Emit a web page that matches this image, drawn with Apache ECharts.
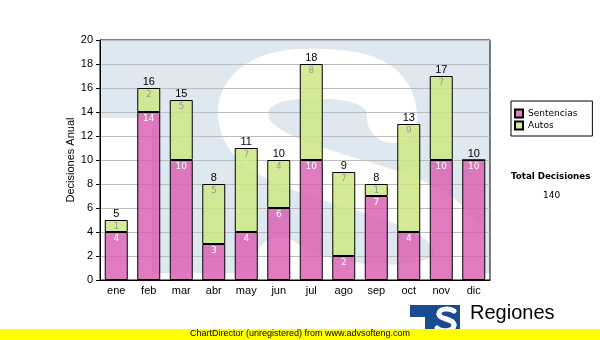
<!DOCTYPE html>
<html>
<head>
<meta charset="utf-8">
<script src="https://cdn.jsdelivr.net/npm/echarts@6/dist/echarts.min.js"></script>
<style>
  html, body { margin: 0; padding: 0; background: #fff; }
  #chart { width: 600px; height: 340px; }
</style>
</head>
<body>
<div id="chart"></div>
<script>
// Decisiones por mes: sentencias y autos
const meses = ['ene', 'feb', 'mar', 'abr', 'may', 'jun', 'jul', 'ago', 'sep', 'oct', 'nov', 'dic'];
const sentencias = [4, 14, 10, 3, 4, 6, 10, 2, 7, 4, 10, 10];
const autos = [1, 2, 5, 5, 7, 4, 8, 7, 1, 9, 7, 0];
const yMin = 0, yMax = 20, yStep = 2;

const totales = meses.map((m, i) => sentencias[i] + autos[i]);
const totalDecisiones = totales.reduce((a, b) => a + b, 0);

const AXIS_FONT = 'Liberation Sans, Arial, sans-serif';
const SMALL_FONT = 'DejaVu Sans, Verdana, sans-serif';

const chart = echarts.init(document.getElementById('chart'), null, { renderer: 'canvas' });

const segLabel = (color) => ({
  show: true,
  position: 'insideTop',
  distance: 2,
  color: color,
  fontSize: 9,
  fontFamily: SMALL_FONT,
  formatter: p => (p.value ? String(p.value) : '')
});

// one stroke piece of a thick white curve
function curve(p0, c1, c2, p1, width, z) {
  return {
    type: 'bezierCurve', z: z, silent: true,
    shape: { x1: p0[0], y1: p0[1], cpx1: c1[0], cpy1: c1[1], cpx2: c2[0], cpy2: c2[1], x2: p1[0], y2: p1[1] },
    style: { fill: null, stroke: '#ffffff', lineWidth: width, lineCap: 'round' }
  };
}

// watermark S drawn as a chain of curves
const bigS = [
  [[392, 118], [392, 78], [350, 72], [300, 74]],
  [[300, 74], [255, 76], [236, 100], [245, 125]],
  [[245, 125], [255, 160], [330, 175], [390, 195]],
  [[390, 195], [455, 217], [470, 245], [455, 270]],
  [[455, 270], [440, 295], [330, 300], [280, 262]]
];
const smallS = [
  [[454, 311], [450, 308], [439, 308], [439, 314]],
  [[439, 314], [439, 320], [454, 318], [454, 325]],
  [[454, 325], [454, 332], [441, 332], [437, 328]]
];

chart.setOption({
  animation: false,
  backgroundColor: '#fff',
  grid: {
    left: 100, top: 40, width: 390, height: 240,
    show: true, borderColor: '#000', borderWidth: 1, backgroundColor: 'transparent'
  },
  legend: {
    data: ['Sentencias', 'Autos'],
    orient: 'vertical',
    left: 511, top: 101,
    backgroundColor: '#fff',
    borderColor: '#000', borderWidth: 1,
    padding: [7, 15, 5, 3],
    itemWidth: 8, itemHeight: 8, itemGap: 1,
    icon: 'rect',
    textStyle: { fontSize: 9, fontFamily: SMALL_FONT, color: '#000', lineHeight: 11 }
  },
  xAxis: {
    type: 'category',
    data: meses,
    axisLine: { lineStyle: { color: '#000', width: 1 } },
    axisTick: { alignWithLabel: true, length: 4, lineStyle: { color: '#000' } },
    axisLabel: { color: '#000', fontSize: 11, fontFamily: AXIS_FONT, margin: 5 }
  },
  yAxis: {
    type: 'value',
    min: yMin, max: yMax, interval: yStep,
    name: 'Decisiones Anual',
    nameLocation: 'middle',
    nameGap: 24,
    nameMoveOverlap: false,
    nameTextStyle: { color: '#000', fontSize: 11, fontFamily: AXIS_FONT },
    axisLine: { show: true, lineStyle: { color: '#000', width: 1 } },
    axisTick: { show: true, length: 4, lineStyle: { color: '#000' } },
    axisLabel: { color: '#000', fontSize: 11, fontFamily: AXIS_FONT, margin: 7 },
    splitLine: { show: true, lineStyle: { color: '#bdbdbd', width: 1 } }
  },
  series: [
    {
      name: 'Sentencias', type: 'bar', stack: 'dec', barWidth: 23,
      data: sentencias,
      itemStyle: { color: 'rgba(218,100,180,0.85)', borderColor: '#000', borderWidth: 1 },
      label: segLabel('#ffffff')
    },
    {
      name: 'Autos', type: 'bar', stack: 'dec', barWidth: 23,
      data: autos,
      itemStyle: { color: 'rgba(204,232,130,0.85)', borderColor: '#000', borderWidth: 1 },
      label: segLabel('#9a9a9a')
    },
    {
      // zero-height cap carrying the monthly total above each stack
      name: 'Total', type: 'bar', stack: 'dec', barWidth: 23,
      data: meses.map(() => 0),
      itemStyle: { color: 'transparent', borderWidth: 0 },
      label: {
        show: true, position: 'top', distance: 1,
        color: '#000', fontSize: 11, fontFamily: AXIS_FONT,
        formatter: p => String(totales[p.dataIndex])
      },
      silent: true
    }
  ],
  graphic: [].concat(
    [
      // watermark behind the plot: blue tile with a large white S
      { type: 'rect', z: -10, silent: true,
        shape: { x: 101, y: 41, width: 389, height: 232 },
        style: { fill: '#dde8f1' } },
      { type: 'rect', z: -9, silent: true,
        shape: { x: 101, y: 118, width: 51, height: 162 },
        style: { fill: '#ffffff' } }
    ],
    bigS.map(s => curve(s[0], s[1], s[2], s[3], 50, -9)),
    [
      // right-hand summary
      { type: 'text', z: 5, left: 511, top: 172,
        style: { text: 'Total Decisiones', fill: '#000', font: 'bold 8.7px ' + SMALL_FONT } },
      { type: 'text', z: 5, left: 543, top: 191,
        style: { text: String(totalDecisiones), fill: '#000', font: '9px ' + SMALL_FONT } },

      // logo at the bottom
      { type: 'rect', z: 5, shape: { x: 410, y: 305, width: 50, height: 35 }, style: { fill: '#184b8f' } },
      { type: 'rect', z: 6, shape: { x: 410, y: 317, width: 15, height: 23 }, style: { fill: '#ffffff' } },
      { type: 'text', z: 5, left: 470, top: 303,
        style: { text: 'Regiones', fill: '#000', font: '20px ' + AXIS_FONT } },

      // unregistered banner
      { type: 'rect', z: 20, shape: { x: 0, y: 329, width: 600, height: 11 }, style: { fill: '#ffff00' } },
      { type: 'text', z: 21, left: 190, top: 329.5,
        style: { text: 'ChartDirector (unregistered) from www.advsofteng.com', fill: '#000', font: '9px ' + AXIS_FONT } }
    ],
    smallS.map(s => curve(s[0], s[1], s[2], s[3], 5, 6))
  )
});
</script>
</body>
</html>
